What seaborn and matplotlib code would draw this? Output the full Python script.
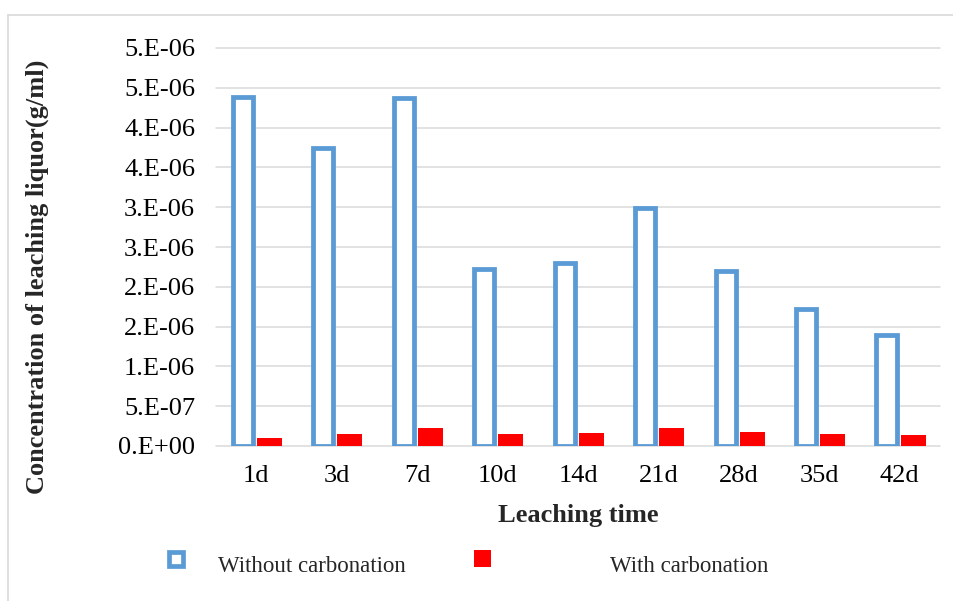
import matplotlib
matplotlib.use("Agg")
import matplotlib.pyplot as plt
from matplotlib.lines import Line2D
from matplotlib.patches import Rectangle
import seaborn as sns
import pandas as pd

# Leaching-time categories and measured concentrations (g/ml)
times = ["1d", "3d", "7d", "10d", "14d", "21d", "28d", "35d", "42d"]
without_carbonation = [4.39e-6, 3.75e-6, 4.37e-6, 2.22e-6, 2.30e-6, 2.99e-6, 2.20e-6, 1.72e-6, 1.40e-6]
with_carbonation = [1.0e-7, 1.5e-7, 2.3e-7, 1.5e-7, 1.6e-7, 2.2e-7, 1.8e-7, 1.5e-7, 1.35e-7]
series_names = ["Without carbonation", "With carbonation"]

y_ticks = [0, 5e-7, 1e-6, 1.5e-6, 2e-6, 2.5e-6, 3e-6, 3.5e-6, 4e-6, 4.5e-6, 5e-6]
y_tick_labels = ["0.E+00", "5.E-07", "1.E-06", "2.E-06", "2.E-06", "3.E-06",
                 "3.E-06", "4.E-06", "4.E-06", "5.E-06", "5.E-06"]

BLUE = "#5B9BD5"
RED = "#FF0000"
GRID = "#D9D9D9"

df = pd.DataFrame({
    "time": times * 2,
    "conc": without_carbonation + with_carbonation,
    "series": [series_names[0]] * len(times) + [series_names[1]] * len(times),
})

sns.set_theme(style="white")
plt.rcParams["font.family"] = ["Liberation Serif", "DejaVu Serif"]

W, H = 954, 601
fig = plt.figure(figsize=(W / 100, H / 100), dpi=100)
ax = fig.add_axes([216 / W, 1 - 446 / H, (940 - 216) / W, (446 - 48) / H])

sns.barplot(data=df, x="time", y="conc", hue="series", hue_order=series_names,
            palette={series_names[0]: BLUE, series_names[1]: RED}, saturation=1,
            width=0.66, gap=0.06, legend=False, ax=ax, zorder=3)

# Hollow outline style for the uncarbonated series
px_per_cat = (940 - 216) / len(times)
lw_px = 4.8
for bar in ax.containers[0]:
    w = bar.get_width()
    cx = bar.get_x() + w / 2
    new_w = w - lw_px / px_per_cat
    bar.set_width(new_w)
    bar.set_x(cx - new_w / 2)
    bar.set_facecolor("white")
    bar.set_edgecolor(BLUE)
    bar.set_linewidth(lw_px * 72 / 100)
for bar in ax.containers[1]:
    bar.set_facecolor(RED)
    bar.set_edgecolor("none")

ax.set_ylim(0, 5e-6)
ax.set_yticks(y_ticks)
ax.set_yticklabels(y_tick_labels)
ax.yaxis.grid(True, color=GRID, linewidth=1.5 * 72 / 100)
ax.set_axisbelow(True)
for gl in ax.get_ygridlines():
    gl.set_clip_on(False)
for s in ax.spines.values():
    s.set_visible(False)
ax.tick_params(axis="both", length=0, labelsize=19, colors="black")
ax.tick_params(axis="y", pad=15)
ax.tick_params(axis="x", pad=14)

ax.set_xlabel("Leaching time", fontsize=19, fontweight="bold", labelpad=12)
ax.set_ylabel("Concentration of leaching liquor(g/ml)", fontsize=19, fontweight="bold")
ax.yaxis.set_label_coords(49 / W, 1 - 277 / H, transform=fig.transFigure)

# Legend entries along the bottom
fig.add_artist(Rectangle((169.5 / W, 1 - 566 / H), 14 / W, 14 / H, transform=fig.transFigure,
                         facecolor="white", edgecolor=BLUE, linewidth=3.4))
fig.add_artist(Rectangle((474 / W, 1 - 567 / H), 17 / W, 17 / H, transform=fig.transFigure,
                         facecolor=RED, edgecolor="none"))
fig.text(218 / W, 1 - 566 / H, series_names[0], fontsize=16.5, va="center", ha="left")
fig.text(610 / W, 1 - 566 / H, series_names[1], fontsize=16.5, va="center", ha="left")

# Light chart-area frame
fig.add_artist(Line2D([8 / W, 8 / W], [0, 1 - 15 / H], transform=fig.transFigure,
                      color=GRID, linewidth=1.2))
fig.add_artist(Line2D([8 / W, 1], [1 - 15 / H, 1 - 15 / H], transform=fig.transFigure,
                      color=GRID, linewidth=1.2))

fig.savefig("out.png", dpi=100)
